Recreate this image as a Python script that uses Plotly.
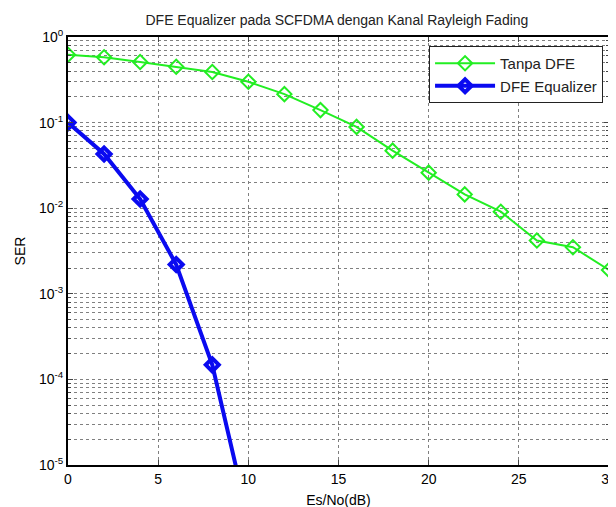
import plotly.graph_objects as go

snr = [0, 2, 4, 6, 8, 10, 12, 14, 16, 18, 20, 22, 24, 26, 28, 30]
ser_tanpa = [0.62, 0.58, 0.51, 0.45, 0.39, 0.30, 0.215, 0.14, 0.089, 0.047,
             0.026, 0.0145, 0.0091, 0.0042, 0.0035, 0.0019]
snr_dfe = [0, 2, 4, 6, 8, 10]
ser_dfe = [0.1, 0.043, 0.0128, 0.0022, 0.000148, 0.0000023]

ytickvals = [1, 1e-1, 1e-2, 1e-3, 1e-4, 1e-5]
yticktext = ["10<sup>0</sup>", "10<sup>-1</sup>", "10<sup>-2</sup>",
             "10<sup>-3</sup>", "10<sup>-4</sup>", "10<sup>-5</sup>"]
xtickvals = [0, 5, 10, 15, 20, 25, 30]

font = "Liberation Sans, Arial, sans-serif"

fig = go.Figure()
fig.add_trace(go.Scatter(
    x=snr, y=ser_tanpa, mode="lines+markers", name="Tanpa DFE",
    line=dict(color="#22ee22", width=2),
    marker=dict(symbol="diamond-open", size=11, color="#22ee22",
                line=dict(width=2, color="#22ee22")),
))
fig.add_trace(go.Scatter(
    x=snr_dfe, y=ser_dfe, mode="lines+markers", name="DFE Equalizer",
    line=dict(color="#0a0af0", width=4),
    marker=dict(symbol="diamond-open", size=10, color="#0a0af0",
                line=dict(width=4, color="#0a0af0")),
))

grid_color = "#808080"
fig.update_layout(
    width=616, height=507,
    margin=dict(l=60, r=15, t=29, b=50, autoexpand=False),
    paper_bgcolor="white", plot_bgcolor="white",
    font=dict(family=font, size=14, color="black"),
    title=dict(text="DFE Equalizer pada SCFDMA dengan Kanal Rayleigh Fading",
               x=0.534, xanchor="center", y=0.976, yanchor="middle",
               font=dict(size=14, color="#222")),
    legend=dict(x=0.989, y=0.979, xanchor="right", yanchor="top",
                bgcolor="white", bordercolor="#222", borderwidth=1,
                font=dict(size=15, color="#222"), itemwidth=60,
                tracegroupgap=6),
    showlegend=True,
)
fig.update_xaxes(
    range=[0, 30], tickvals=xtickvals, ticks="inside", ticklen=5,
    showline=True, linecolor="black", linewidth=2, mirror="ticks",
    showgrid=True, gridcolor=grid_color, griddash="dot", gridwidth=1,
    zeroline=False, tickfont=dict(size=14), automargin=False,
    title=dict(text="Es/No(dB)", standoff=9, font=dict(size=14)),
)
fig.update_yaxes(
    type="log", range=[-5, 0], tickvals=ytickvals, ticktext=yticktext,
    ticks="inside", ticklen=5,
    showline=True, linecolor="black", linewidth=2, mirror="ticks",
    showgrid=True, gridcolor=grid_color, griddash="dot", gridwidth=1,
    minor=dict(dtick="D1", showgrid=True, gridcolor=grid_color,
               griddash="dot", gridwidth=1, ticks="inside", ticklen=3),
    zeroline=False, tickfont=dict(size=14), automargin=False,
    title=dict(text="SER", standoff=10, font=dict(size=14)),
)

fig.write_html("out.html")
